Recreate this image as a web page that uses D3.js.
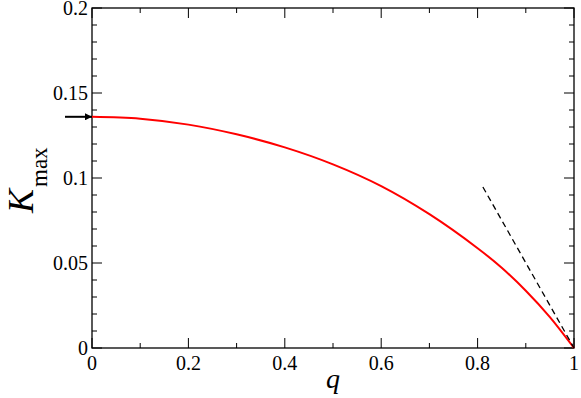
<!DOCTYPE html>
<html>
<head>
<meta charset="utf-8">
<script src="https://cdn.jsdelivr.net/npm/d3@7"></script>
<style>
  body { margin: 0; background: #fff; }
</style>
</head>
<body>
<svg id="chart" width="581" height="398"></svg>
<script>
// red curve K_max(q)
const q_vals = [0, 0.1, 0.2, 0.3, 0.4, 0.5, 0.6, 0.7, 0.8, 0.85, 0.9, 0.95, 1]
const k_vals = [0.136, 0.1349, 0.1314, 0.1257, 0.118, 0.108, 0.0952, 0.0787, 0.0587, 0.0472, 0.0337, 0.0182, 0]

// dashed asymptote
const dash_q = [0.811, 1]
const dash_k = [0.0947, 0]

const x_ticks = [0, 0.2, 0.4, 0.6, 0.8, 1]
const x_labels = ["0", "0.2", "0.4", "0.6", "0.8", "1"]
const y_ticks = [0, 0.05, 0.1, 0.15, 0.2]
const y_labels = ["0", "0.05", "0.1", "0.15", "0.2"]

const svg = d3.select("#chart")
    .attr("font-family", "'Liberation Serif', 'Times New Roman', 'DejaVu Serif', serif")
const pLeft = 92, pRight = 574, pTop = 8, pBottom = 348

const x = d3.scaleLinear().domain([0, 1]).range([pLeft, pRight])
const y = d3.scaleLinear().domain([0, 0.2]).range([pBottom, pTop])

const xMinor = d3.range(0, 1.0001, 0.1)
const yMinor = d3.range(0, 0.2001, 0.01)

// ticks pointing inward on all four sides
const g = svg.append("g").attr("stroke", "black").attr("stroke-width", 1)

xMinor.forEach(v => {
    const len = Math.round(v * 10) % 2 === 0 ? 10 : 5
    g.append("line").attr("x1", x(v)).attr("x2", x(v)).attr("y1", pBottom).attr("y2", pBottom - len)
    g.append("line").attr("x1", x(v)).attr("x2", x(v)).attr("y1", pTop).attr("y2", pTop + len)
})
yMinor.forEach(v => {
    const len = Math.round(v * 100) % 5 === 0 ? 10 : 5
    g.append("line").attr("y1", y(v)).attr("y2", y(v)).attr("x1", pLeft).attr("x2", pLeft + len)
    g.append("line").attr("y1", y(v)).attr("y2", y(v)).attr("x1", pRight).attr("x2", pRight - len)
})

svg.append("rect")
    .attr("x", pLeft).attr("y", pTop)
    .attr("width", pRight - pLeft).attr("height", pBottom - pTop)
    .attr("fill", "none").attr("stroke", "black").attr("stroke-width", 1.3)

// tick labels
svg.selectAll(".xl").data(x_ticks).enter().append("text")
    .attr("x", d => x(d)).attr("y", 370)
    .attr("text-anchor", "middle").attr("font-size", 20)
    .text((d, i) => x_labels[i])

svg.selectAll(".yl").data(y_ticks).enter().append("text")
    .attr("x", 88).attr("y", d => y(d) + 7)
    .attr("text-anchor", "end").attr("font-size", 20)
    .text((d, i) => y_labels[i])

// curve
const line = d3.line().x(d => x(d[0])).y(d => y(d[1])).curve(d3.curveCatmullRom)
svg.append("path")
    .datum(q_vals.map((q, i) => [q, k_vals[i]]))
    .attr("d", line)
    .attr("fill", "none").attr("stroke", "red").attr("stroke-width", 2)

svg.append("path")
    .datum(dash_q.map((q, i) => [q, dash_k[i]]))
    .attr("d", d3.line().x(d => x(d[0])).y(d => y(d[1])))
    .attr("fill", "none").attr("stroke", "black").attr("stroke-width", 1.3)
    .attr("stroke-dasharray", "6,4")

// arrow pointing at K_max(0)
svg.append("defs").append("marker")
    .attr("id", "head").attr("viewBox", "0 0 10 10")
    .attr("refX", 10).attr("refY", 5)
    .attr("markerWidth", 7).attr("markerHeight", 7)
    .attr("markerUnits", "userSpaceOnUse")
    .attr("orient", "auto")
    .append("path").attr("d", "M0,0 L10,5 L0,10 Z").attr("fill", "black")

svg.append("line")
    .attr("x1", 65).attr("x2", x(0))
    .attr("y1", y(k_vals[0])).attr("y2", y(k_vals[0]))
    .attr("stroke", "black").attr("stroke-width", 2)
    .attr("marker-end", "url(#head)")

// axis titles
svg.append("text")
    .attr("x", (pLeft + pRight) / 2).attr("y", 388)
    .attr("text-anchor", "middle").attr("font-size", 28)
    .attr("font-style", "italic")
    .text("q")

const yt = svg.append("text")
    .attr("transform", "translate(33,213) rotate(-90)")
    .attr("font-size", 36)
yt.append("tspan").attr("font-style", "italic").text("K")
yt.append("tspan").attr("font-size", 23).attr("dy", 14).attr("dx", 2).text("max")
</script>
</body>
</html>
